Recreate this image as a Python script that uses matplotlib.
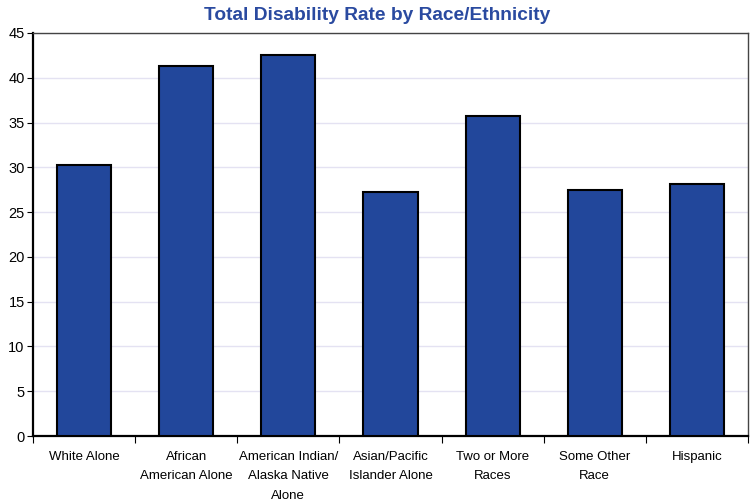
import numpy as np
import matplotlib.pyplot as plt

categories = ["White Alone", "African\nAmerican Alone", "American Indian/\nAlaska Native\nAlone",
              "Asian/Pacific\nIslander Alone", "Two or More\nRaces", "Some Other\nRace", "Hispanic"]
rates = [30.3, 41.3, 42.5, 27.3, 35.7, 27.5, 28.1]
y_ticks = [0, 5, 10, 15, 20, 25, 30, 35, 40, 45]

plt.rcParams['font.family'] = ['Liberation Sans Narrow', 'Liberation Sans', 'DejaVu Sans']

fig = plt.figure(figsize=(7.54, 5.01), dpi=100)
ax = fig.add_axes([33 / 754, 1 - 436 / 501, 715 / 754, 403 / 501])

x = np.arange(len(categories))
ax.bar(x, rates, width=0.53, color='#22479b', edgecolor='black', linewidth=1.5, zorder=3)

ax.set_xlim(-0.5, len(categories) - 0.5)
ax.set_ylim(0, 45)
ax.set_yticks(y_ticks)
ax.yaxis.grid(True, color='#e4e2f2', linewidth=1, zorder=0)

ax.set_xticks(x)
ax.set_xticklabels(categories, fontsize=9.5, linespacing=1.8, va='top')
ax.set_xticks(np.arange(len(categories) + 1) - 0.5, minor=True)
ax.tick_params(axis='x', which='major', length=0, pad=11)
ax.tick_params(axis='x', which='minor', length=5, direction='out', width=0.8)
ax.tick_params(axis='y', length=4, direction='out', labelsize=10.5, pad=2)

for side in ['left', 'bottom']:
    ax.spines[side].set_linewidth(1.6)
for side in ['top', 'right']:
    ax.spines[side].set_linewidth(1.0)
    ax.spines[side].set_color('#444444')

fig.text(0.5, 1 - 15 / 501, "Total Disability Rate by Race/Ethnicity", ha='center', va='center',
         fontsize=13.8, fontweight='bold', color='#2a4aa0', family=['Liberation Sans', 'DejaVu Sans'])

fig.savefig('out.png', dpi=100)
